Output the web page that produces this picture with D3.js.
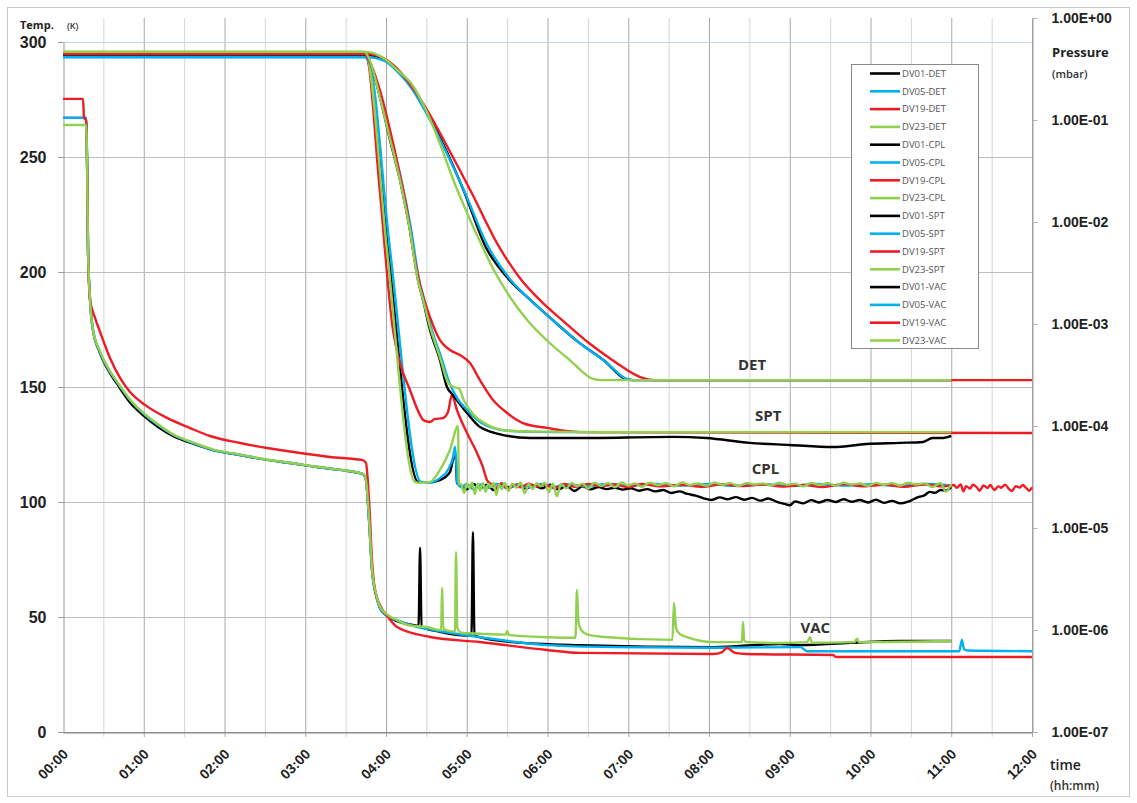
<!DOCTYPE html>
<html>
<head>
<meta charset="utf-8">
<script src="https://cdn.jsdelivr.net/npm/d3@7"></script>
<style>
  body { margin: 0; background: #fff; }
  svg { display: block; font-family: 'Open Sans', sans-serif; }
</style>
</head>
<body>
<div id="svg_wrapper"></div>
<script>
// time in minutes since start, temperature in K, pressure in mbar
const hourLabels = ['00:00','01:00','02:00','03:00','04:00','05:00','06:00','07:00','08:00','09:00','10:00','11:00','12:00'];
const tempTicks = [0, 50, 100, 150, 200, 250, 300];
const pressureTicks = [1e-7, 1e-6, 1e-5, 1e-4, 1e-3, 1e-2, 1e-1, 1];
const pressureLabels = ['1.00E-07','1.00E-06','1.00E-05','1.00E-04','1.00E-03','1.00E-02','1.00E-01','1.00E+00'];
const sensorColors = ['#000000', '#00b0f0', '#ee1c24', '#92d050'];
const groupNames = ['DET', 'CPL', 'SPT', 'VAC'];
const sensorNames = ['DV01', 'DV05', 'DV19', 'DV23'];

// curve labels: [minute, value]
const groupLabelAt = {
    DET: [512, 157.4],
    SPT: [524, 135.2],
    CPL: [522, 112.2],
    VAC: [559, 9.4e-7]
};

// ---------- DET ----------
const dv01Det = [[0,294.3],[226,294.3],[238,292.5],[249,287],[260,279.5],[271,268.5],[283,255],[298,235],[314,211],[331,197],[346,188.5],[365,178.5],[383,169.5],[402,161.5],[418,153.5],[423,153],[660,153]];
const dv05Det = [[0,293.5],[226,293.5],[238,292],[249,287],[260,279],[271,268],[284,253],[299,234],[315,212],[332,197],[347,188],[366,178],[384,169],[403,161],[419,153.5],[424,153],[660,153]];
const dv19Det = [[0,294.8],[226,294.8],[238,293],[249,288],[260,280],[271,270],[286,254],[304,234],[323,212],[340,197],[354,188],[373,178],[391,169],[410,161],[429,154.3],[440,153],[720,153]];
const dv23Det = [[0,295.7],[226,295.7],[238,293],[249,287.5],[260,281],[270,270],[280,256],[290,240],[300,226],[310,213],[320,201],[330,191],[345,179],[360,170],[377,161.5],[394,153.5],[400,153],[660,153]];

// ---------- CPL ----------
const dv01Cpl = [[0,294.3],[224,294.3],[226,293],[241.5,209.6],[263.8,108.7],[270,108.3],[280,109.5],[287.5,113],[291,120.4],[292,118],[292.7,108.3],
    [295,107.5],[300,105.5],[305,107.8],[310,106],[315,107.5],[320,105.2],[326,107.4],[332,106.3],[338,107.6],[344,105.8],[350,107.2],[356,106],[362,107.5],[368,105.5],[374,107],[380,104.8],[386,106.8],[392,105.5],
    [398,106.5],[404,105.6],[410,106.2],[416,105.4],[422,106],[428,104.9],[434,105.6],[440,104.6],[446,105.2],[452,103.9],[458,104.6],[464,103.5],[470,102.8],[476,101.6],[482,100.9],[488,102],[494,101.2],[500,102.1],[506,101],[512,101.8],[518,100.6],[524,101.5],[530,100.2],[536,99.2],[540,98.6],[544,100.2],[550,99.4],[556,100.8],[562,99.8],[568,100.9],[574,100],[580,101.2],[586,100.1],[592,100.9],[598,99.8],[604,101],[610,99.6],[616,100.5],[622,99.4],[628,100.2],[632,101.2],[636,102.2],[640,102.9],[644,104.4],[648,104],[652,105.2],[656,105],[660,106.5]];
const dv05Cpl = [[0,293.5],[225,293.5],[227,292.5],[243,209.6],[266,108.7],[272.7,108.3],[280,110.4],[286,113.9],[290,120],[291.3,124],[292.4,115],[293,108.3],
    [296,106.5],[300,107.8],[305,105.5],[310,107.6],[316,106.2],[322,107.9],[330,106],[338,107.5],[346,106.4],[355,107.8],[365,106.7],[375,107.6],[390,106.9],[405,107.8],[420,107],[440,107.9],[460,107.1],[480,107.8],[500,107],[520,107.7],[540,107],[560,107.8],[580,107.1],[600,107.7],[620,107],[640,107.8],[660,107.2]];
const dv19Cpl = [[0,294.8],[224,294.8],[226,293.5],[235,238],[245.2,174.8],[250.4,160.4],[257.8,148.7],[265.3,137.8],[268,135.5],[272.7,134.8],[276,136],[282.3,136.5],[286,139],[289,146.5],[292.7,140],[300.2,130],[307.6,121.3],[312,115.2],[315,109.6],
    [318,107.8],[322,106.5],[326,108.2],[330,105.8],[335,107.6],[340,106.4],[346,108],[352,106.8],[358,107.5],[365,106],[372,107.8],[380,106.6],[390,107.9],[400,106.9],[410,107.6],[420,106.5],[430,107.8],[445,106.8],[460,107.5],[475,106.6],[490,107.7],[505,106.9],[520,107.6],[535,106.7],[550,107.4],[565,106.5],[580,107.7],[595,106.8],[610,107.5],[625,106.6],[640,107.6],[655,106.8],
    [662,107.4],[664,106.2],[667,107.6],[669,104.6],[671,106.9],[674,105.8],[676,107.5],[679,106.4],[681,104.9],[684,107.2],[687,106.1],[689,107.4],[692,105.2],[695,106.8],[697,106.2],[700,107.5],[703,105.6],[705,104.8],[708,106.9],[711,106.3],[713,107.4],[716,105.9],[718,104.9],[720,106.4]];
const dv23Cpl = [[0,295.7],[224,295.7],[226,294],[240.7,209.6],[261.5,108.7],[265,108.3],[272.7,108.7],[280,113.9],[287.5,122.6],[293.5,133],[294.2,108],
    [296,107.5],[298,104],[300,108],[302,106],[304,108.5],[306,103.5],[308,107.8],[310,105],[312,108.2],[314,104.5],[316,108],[318,106.5],[320,108.4],[322,103],[324,107.6],[326,105.5],[328,108.3],[331,104.8],[334,108],[337,106.2],[340,108.5],[343,103.8],[346,107.9],[349,105.6],[352,108.2],[355,106.8],[358,108.4],[361,104.2],[364,108],[367,102.5],[370,107.7],[374,106],[378,108.3],[382,106.9],[386,108.1],[390,105.8],[395,108.4],[400,107],[405,108.2],[410,106.4],[415,108.5],[420,107.2],[425,108.1],[430,106.6],[436,108.4],[442,107.3],[448,108.2],[454,106.8],[460,108.5],[466,107.4],[472,108.1],[478,107],[484,108.4],[490,107.5],[496,108.2],[502,106.9],[508,108.3],[514,107.6],[520,108.1],[526,107.2],[532,108.4],[538,107.5],[544,108],[550,106.8],[556,108.3],[562,107.4],[568,108.2],[574,107.1],[580,108.4],[586,107.6],[592,108.1],[598,107],[604,108.3],[610,107.5],[616,108.2],[622,107.2],[628,108.4],[634,107.6],[640,108.1],[646,106.5],[652,108.3],[656,104.5],[660,107.8]];

// ---------- SPT ----------
const dv01Spt = [[0,294.3],[224,294.3],[228,291.3],[235.5,276],[243,257.4],[250.4,240],[257.8,218.3],[263.8,196.5],[267.5,187.8],[272.7,174.8],[280.1,161.7],[285.3,150],[289.8,146.5],[300.2,138.7],[309.8,132.6],[330,128.8],[347,127.8],[384,127.8],[453,128.3],[478,127.8],[510,125.7],[540,124.8],[572,123.9],[597,125.2],[622,125.7],[639,126.1],[646,127.8],[654,127.8],[660,128.7]];
const dv05Spt = [[0,293.5],[224,293.5],[228,291],[236,276],[243.5,258],[251,241],[258.5,219],[264.5,197],[268.5,188],[274,175],[281,163],[287,152],[292,146],[302,139],[312,134],[330,131],[350,130.5],[400,130.4],[660,130.4]];
const dv19Spt = [[0,294.8],[224,294.8],[228,291.3],[235.5,279],[243,261.7],[250.4,242.2],[255.6,227],[260.1,209.6],[265.3,194.3],[272.7,180.4],[280.1,170.4],[287.5,166.1],[295,163.9],[302.4,160.4],[309.8,153],[319.5,144.3],[330,138.7],[341.8,134.3],[359.6,132.2],[384,130.4],[720,130]];
const dv23Spt = [[0,295.7],[224,295.7],[228,292],[235,277],[242.5,259],[250,241],[257.5,219],[263.5,197],[267.5,188],[273,175.5],[280,163],[286,152],[290,150],[294,149.5],[298,144],[305,138],[314,134],[330,131],[350,130.6],[400,130.4],[660,130.4]];

// ---------- VAC (mbar) ----------
const dv01Vac = [[0,0.105],[17.1,0.105],[18,0.03],[18.6,0.0053],[20.1,1.72e-3],[22.3,8.7e-4],[27.5,5.2e-4],[34.9,3.3e-4],[40.1,2.6e-4],[49.8,1.7e-4],[59.4,1.28e-4],[70.6,9.8e-5],[81.7,8.0e-5],[96.6,6.7e-5],[111.5,5.8e-5],[131.5,5.2e-5],[151.6,4.65e-5],[168.7,4.34e-5],[188.7,3.96e-5],[205.8,3.71e-5],[222.9,3.38e-5],[225.1,2.96e-5],[227.4,1.2e-5],[229.6,3.9e-6],[232.6,2.2e-6],[235.5,1.64e-6],[240,1.4e-6],[248.2,1.22e-6],[260,1.12e-6],[264.2,1.1e-6],[265.3,6.4e-6],[266.4,1.08e-6],[280,9.6e-7],[303.5,8.8e-7],[304.6,9.1e-6],[305.7,8.9e-7],[309.8,8.5e-7],[334,7.6e-7],[384,7.1e-7],[483,6.8e-7],[533,7.3e-7],[548,7.1e-7],[585,7.5e-7],[622,7.8e-7],[660,7.8e-7]];
const dv05Vac = [[0,0.105],[17.1,0.105],[18,0.03],[18.6,0.0053],[20.1,1.72e-3],[22.3,8.7e-4],[27.5,5.3e-4],[34.9,3.4e-4],[40.1,2.7e-4],[49.8,1.8e-4],[59.4,1.34e-4],[70.6,1.02e-4],[81.7,8.2e-5],[96.6,6.8e-5],[111.5,5.8e-5],[131.5,5.2e-5],[151.6,4.65e-5],[168.7,4.34e-5],[188.7,3.96e-5],[205.8,3.71e-5],[222.9,3.38e-5],[225.1,2.96e-5],[227.4,1.2e-5],[229.6,3.9e-6],[232.6,2.2e-6],[235.5,1.64e-6],[240,1.4e-6],[248.2,1.25e-6],[260,1.1e-6],[275,1.0e-6],[310,8.5e-7],[360,7.1e-7],[409,6.8e-7],[483,6.7e-7],[548,6.8e-7],[552.8,6.2e-7],[666,6.2e-7],[667.9,8.0e-7],[669.5,6.5e-7],[672,6.3e-7],[720,6.2e-7]];
const dv19Vac = [[0,0.161],[14.9,0.161],[15.6,0.105],[17.1,0.1],[18,0.03],[18.6,0.0053],[20.1,1.72e-3],[23.8,1.15e-3],[27.5,8.4e-4],[34.9,4.65e-4],[42.4,2.96e-4],[49.8,2.15e-4],[60.9,1.61e-4],[77.3,1.2e-4],[94.4,9.55e-5],[109.2,7.98e-5],[131.5,6.81e-5],[151.6,6.08e-5],[176.1,5.43e-5],[198.4,4.97e-5],[222.2,4.65e-5],[225.1,4.34e-5],[227.4,1.88e-5],[229.6,4.86e-6],[231.8,2.47e-6],[235.5,1.76e-6],[241.5,1.34e-6],[248.2,1.07e-6],[272.7,8.54e-7],[309.8,7.62e-7],[359.6,6.37e-7],[384.1,5.96e-7],[483,5.82e-7],[489.7,6.08e-7],[493.4,6.67e-7],[499.3,5.96e-7],[508.2,5.82e-7],[572.1,5.69e-7],[574.3,5.43e-7],[720,5.43e-7]];
const dv23Vac = [[0,0.0893],[17.1,0.0893],[18,0.03],[18.6,0.0053],[20.1,1.72e-3],[22.3,8.8e-4],[27.5,5.4e-4],[34.9,3.45e-4],[40.1,2.72e-4],[49.8,1.82e-4],[59.4,1.36e-4],[70.6,1.04e-4],[81.7,8.3e-5],[96.6,6.9e-5],[111.5,5.9e-5],[131.5,5.25e-5],[151.6,4.7e-5],[168.7,4.36e-5],[188.7,3.98e-5],[205.8,3.72e-5],[222.9,3.4e-5],[225.1,2.96e-5],[227.4,1.25e-5],[229.6,4.0e-6],[232.6,2.25e-6],[235.5,1.7e-6],[240,1.45e-6],[248.2,1.25e-6],[256,1.12e-6],[270,1.07e-6],[281,1.0e-6],[281.6,2.58e-6],[282.6,1.02e-6],[291.3,9.6e-7],[292,5.8e-6],[293,1.05e-6],[296,9.4e-7],[310,9.2e-7],[329,9.0e-7],[330,9.8e-7],[331.5,8.9e-7],[360,8.5e-7],[380.8,8.4e-7],[381.9,2.47e-6],[383,1.2e-6],[385,1.0e-6],[390,9.0e-7],[400,8.6e-7],[452.8,8.0e-7],[454,1.84e-6],[455.5,1.05e-6],[458,9.2e-7],[465,8.4e-7],[483,7.6e-7],[504.5,7.6e-7],[505.2,1.2e-6],[506.2,7.9e-7],[508,7.6e-7],[533,7.46e-7],[553,7.6e-7],[555,8.5e-7],[556.5,7.5e-7],[588,7.6e-7],[590,8.2e-7],[591.5,7.6e-7],[660,7.8e-7]];

const seriesData = {
    DET: [dv01Det, dv05Det, dv19Det, dv23Det],
    CPL: [dv01Cpl, dv05Cpl, dv19Cpl, dv23Cpl],
    SPT: [dv01Spt, dv05Spt, dv19Spt, dv23Spt],
    VAC: [dv01Vac, dv05Vac, dv19Vac, dv23Vac]
};

function renderChart() {
    const width = 1137, height = 803;
    const left = 63, right = 1032, bottom = 732, top = 18, tempTop = 42;

    const svg = d3.select('#svg_wrapper')
    .append('svg')
    .attr('width', width)
    .attr('height', height);

    // frame
    svg.append('rect')
    .attr('x', 7.5).attr('y', 7.5)
    .attr('width', width - 15).attr('height', height - 14)
    .attr('fill', 'none')
    .attr('stroke', '#c8c8c8');

    const x = d3.scaleLinear().domain([0, 720]).range([left, right]);
    const yT = d3.scaleLinear().domain([0, 300]).range([bottom, tempTop]);
    const yP = d3.scaleLog().domain([1e-7, 1]).range([bottom, top]);

    // vertical grid, every 30 min
    const halfHours = d3.range(30, 721, 30);
    svg.append('g')
    .selectAll('line')
    .data(halfHours)
    .enter()
    .append('line')
    .attr('x1', d => x(d) + 0.5)
    .attr('x2', d => x(d) + 0.5)
    .attr('y1', top)
    .attr('y2', bottom + 5)
    .attr('stroke', d => d % 60 === 0 ? '#a8a8a8' : '#d6d6d6')
    .attr('stroke-width', 1);

    // horizontal grid
    svg.append('g')
    .selectAll('line')
    .data(tempTicks)
    .enter()
    .append('line')
    .attr('x1', left - 5)
    .attr('x2', right)
    .attr('y1', d => yT(d) + 0.5)
    .attr('y2', d => yT(d) + 0.5)
    .attr('stroke', d => d === 300 ? '#c4d4ea' : (d === 0 ? '#8c8c8c' : '#bdbdbd'))
    .attr('stroke-width', 1);

    // left axis
    const leftAxis = svg.append('g')
    .attr('transform', `translate(${left + 0.5},0)`)
    .call(d3.axisLeft(yT).tickValues(tempTicks).tickSize(5).tickSizeOuter(0).tickPadding(12));
    leftAxis.select('.domain').attr('stroke', '#9a9a9a');
    leftAxis.selectAll('.tick line').attr('stroke', '#9a9a9a');
    leftAxis.selectAll('.tick text')
    .attr('fill', '#222')
    .style('font-size', '16px')
    .style('font-weight', 600);

    // right axis
    const rightAxis = svg.append('g')
    .attr('transform', `translate(${right + 0.5},0)`)
    .call(d3.axisRight(yP).tickValues(pressureTicks).tickSize(5).tickSizeOuter(0).tickPadding(14)
        .tickFormat((d, i) => pressureLabels[i]));
    rightAxis.select('.domain').attr('stroke', '#9a9a9a');
    rightAxis.selectAll('.tick line').attr('stroke', '#b5b5b5');
    rightAxis.selectAll('.tick text')
    .attr('fill', '#222')
    .style('font-size', '14px')
    .style('font-weight', 600);

    // bottom axis
    const bottomAxis = svg.append('g')
    .attr('transform', `translate(0,${bottom + 0.5})`)
    .call(d3.axisBottom(x).tickValues(d3.range(0, 721, 60)).tickSize(0).tickSizeOuter(0)
        .tickFormat((d, i) => hourLabels[i]));
    bottomAxis.select('.domain').attr('stroke', '#8c8c8c');
    bottomAxis.selectAll('.tick text')
    .attr('x', 0).attr('y', 0).attr('dy', '0.35em')
    .attr('transform', 'translate(2,19) rotate(-45)')
    .style('text-anchor', 'end')
    .attr('fill', '#222')
    .style('font-size', '14px')
    .style('font-weight', 600);

    // axis titles
    svg.append('text').attr('x', 20).attr('y', 29)
    .style('font-size', '11px').style('font-weight', 700).attr('fill', '#222').text('Temp.');
    svg.append('text').attr('x', 67).attr('y', 29)
    .style('font-size', '9px').style('font-weight', 600).attr('fill', '#333').text('(K)');
    svg.append('text').attr('x', 1052).attr('y', 57)
    .style('font-size', '13px').style('font-weight', 700).attr('fill', '#222').text('Pressure');
    svg.append('text').attr('x', 1052).attr('y', 78)
    .style('font-size', '11px').style('font-weight', 600).attr('fill', '#333').text('(mbar)');
    svg.append('text').attr('x', 1050).attr('y', 770)
    .style('font-size', '14px').style('font-weight', 600).attr('fill', '#222').text('time');
    svg.append('text').attr('x', 1050).attr('y', 790)
    .style('font-size', '12px').style('font-weight', 600).attr('fill', '#333').text('(hh:mm)');

    // series, in legend order
    const lineT = d3.line().x(d => x(d[0])).y(d => yT(d[1])).curve(d3.curveMonotoneX);
    const lineP = d3.line().x(d => x(d[0])).y(d => yP(d[1])).curve(d3.curveMonotoneX);

    const legendItems = [];
    for (let g of groupNames) {
        for (let s = 0; s < sensorNames.length; s++) {
            const gen = g === 'VAC' ? lineP : lineT;
            svg.append('path')
            .datum(seriesData[g][s])
            .attr('d', gen)
            .attr('fill', 'none')
            .attr('stroke', sensorColors[s])
            .attr('stroke-width', 2.4)
            .attr('stroke-linejoin', 'round');
            legendItems.push({ name: `${sensorNames[s]}-${g}`, color: sensorColors[s] });
        }
    }

    // group labels
    for (let g of groupNames) {
        const p = groupLabelAt[g];
        svg.append('text')
        .attr('x', x(p[0]))
        .attr('y', g === 'VAC' ? yP(p[1]) : yT(p[1]))
        .attr('text-anchor', 'middle')
        .attr('fill', '#333')
        .style('font-size', '15px')
        .style('font-weight', 700)
        .text(g);
    }

    // legend
    const legend = svg.append('g').attr('transform', 'translate(851,64)');
    legend.append('rect')
    .attr('x', 0.5).attr('y', 0.5)
    .attr('width', 127).attr('height', 284)
    .attr('fill', '#fff')
    .attr('stroke', '#8a8a8a');

    legend.selectAll('g.item')
    .data(legendItems)
    .enter()
    .append('g')
    .attr('class', 'item')
    .attr('transform', (d, i) => `translate(0,${9.5 + i * 17.8})`)
    .each(function(d) {
        const item = d3.select(this);
        item.append('line')
        .attr('x1', 19).attr('x2', 49)
        .attr('stroke', d.color)
        .attr('stroke-width', 2.6);
        item.append('text')
        .attr('x', 51).attr('y', 0).attr('dy', '0.35em')
        .attr('fill', '#555')
        .style('font-size', '9.5px')
        .text(d.name);
    });
}

renderChart();
</script>
</body>
</html>
